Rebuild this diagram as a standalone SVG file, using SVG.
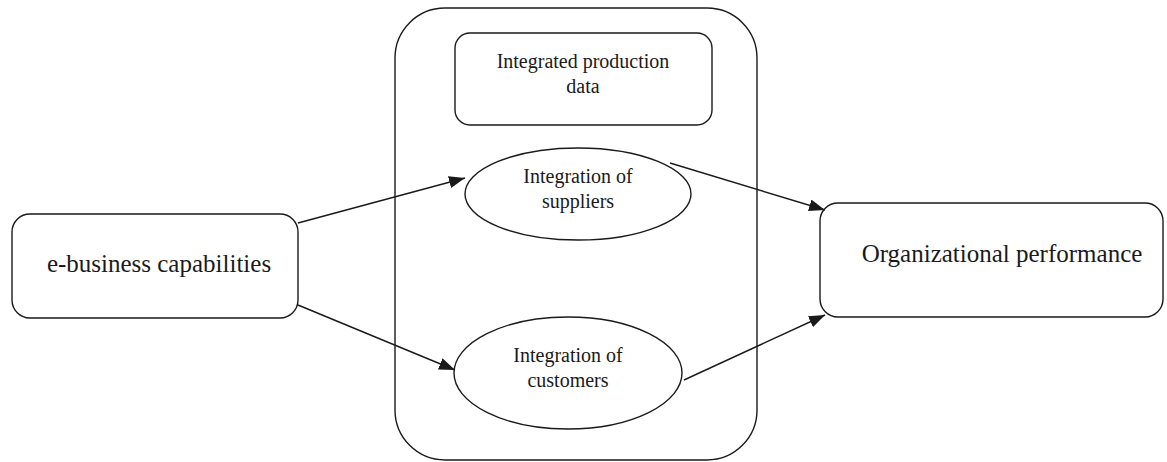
<svg xmlns="http://www.w3.org/2000/svg" width="1167" height="462" viewBox="0 0 1167 462">
<defs>
<marker id="arr" viewBox="0 0 16 12" refX="16" refY="6" markerWidth="16" markerHeight="12" markerUnits="userSpaceOnUse" orient="auto">
<path d="M0,0 L16,6 L0,12 Z" fill="#1a1a1a"/>
</marker>
</defs>
<style>
.s{fill:#fff;stroke:#1a1a1a;stroke-width:1.4}
.t{font-family:"Liberation Serif","Times New Roman",serif;fill:#1a1a1a;text-anchor:middle}
.c{stroke:#1a1a1a;stroke-width:1.4;fill:none;marker-end:url(#arr)}
</style>
<rect width="1167" height="462" fill="#fff"/>
<g id="container"><rect class="s" x="395" y="8" width="362" height="452" rx="50" ry="50"/></g>
<g id="production"><rect class="s" x="455" y="33" width="257" height="92" rx="15" ry="15"/>
<text class="t" font-size="20" x="583" y="68">Integrated production</text>
<text class="t" font-size="20" x="583" y="93">data</text></g>
<g id="suppliers"><ellipse class="s" cx="578" cy="194" rx="113" ry="46"/>
<text class="t" font-size="20" x="578" y="183">Integration of</text>
<text class="t" font-size="20" x="578" y="208">suppliers</text></g>
<g id="customers"><ellipse class="s" cx="568" cy="373" rx="114" ry="56"/>
<text class="t" font-size="20" x="568" y="362">Integration of</text>
<text class="t" font-size="20" x="568" y="387">customers</text></g>
<g id="ebusiness"><rect class="s" x="12" y="214" width="286" height="104" rx="18" ry="18"/>
<text class="t" font-size="25" x="159" y="272">e-business capabilities</text></g>
<g id="performance"><rect class="s" x="820" y="203" width="343" height="114" rx="18" ry="18"/>
<text class="t" font-size="25" x="1002" y="262">Organizational performance</text></g>
<g id="connectors">
<line class="c" x1="298" y1="223" x2="465" y2="178"/>
<line class="c" x1="298" y1="305" x2="455" y2="370"/>
<line class="c" x1="670" y1="163" x2="825" y2="210"/>
<line class="c" x1="684" y1="380" x2="825" y2="315"/>
</g>
</svg>
